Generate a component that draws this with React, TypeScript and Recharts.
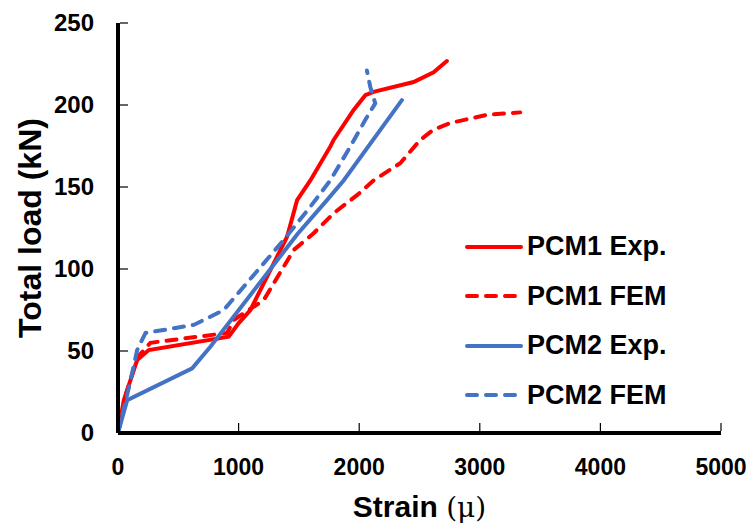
import { Line, LineChart, XAxis, YAxis } from 'recharts'

// Valeurs : déformation (µ) / charge totale (kN)
const pcm1ExpStrain = [0, 48, 159, 255, 918, 1001, 1098, 1402, 1485, 1595, 1760, 1788, 1954, 2051, 2119, 2451, 2617, 2727]
const pcm1ExpLoad = [0, 20, 44.5, 50.6, 58.7, 67, 75, 119.7, 142, 154, 174.6, 178.7, 197, 206, 208, 214, 220, 226.8]

const pcm1FemStrain = [0, 60, 159, 269, 905, 960, 1208, 1457, 1622, 1788, 1982, 2119, 2340, 2506, 2617, 2755, 3059, 3335]
const pcm1FemLoad = [0, 22, 46, 55, 61, 69, 81, 111.6, 121.8, 134, 145, 154, 164.5, 178.7, 185, 189, 194, 195.5]

const pcm2ExpStrain = [0, 76, 615, 766, 1485, 1733, 1871, 2354]
const pcm2ExpLoad = [0, 20, 39.4, 52.6, 121, 142, 154, 203]

const pcm2FemStrain = [0, 104, 159, 228, 628, 877, 1374, 1595, 1760, 1926, 2051, 2133, 2092, 2064]
const pcm2FemLoad = [0, 32, 50.6, 61, 65.9, 75, 117.7, 138, 154, 174.6, 191, 201, 211, 221]

const xTicks = [0, 1000, 2000, 3000, 4000, 5000]
const yTicks = [0, 50, 100, 150, 200, 250]

const toPoints = (xs: number[], ys: number[]) => xs.map((x, i) => ({ x, y: ys[i] }))

const RED = '#FF0000'
const BLUE = '#4472C4'
const FONT = '"Liberation Sans", Arial, sans-serif'

const series = [
  { name: 'PCM1 Exp.', color: RED, dashed: false, data: toPoints(pcm1ExpStrain, pcm1ExpLoad) },
  { name: 'PCM1 FEM', color: RED, dashed: true, data: toPoints(pcm1FemStrain, pcm1FemLoad) },
  { name: 'PCM2 Exp.', color: BLUE, dashed: false, data: toPoints(pcm2ExpStrain, pcm2ExpLoad) },
  { name: 'PCM2 FEM', color: BLUE, dashed: true, data: toPoints(pcm2FemStrain, pcm2FemLoad) },
]

// légende posée par-dessus le graphique (la Legend de recharts réserve de la place)
const LegendBox = () => (
  <div
    style={{
      position: 'absolute',
      left: 465,
      top: 222,
      fontFamily: FONT,
      fontWeight: 'bold',
      fontSize: 27,
      color: '#000',
    }}
  >
    {series.map((s) => (
      <div key={s.name} style={{ display: 'flex', alignItems: 'center', height: 49.5 }}>
        <svg width={62} height={10}>
          <line
            x1={2}
            y1={5}
            x2={56}
            y2={5}
            stroke={s.color}
            strokeWidth={4}
            strokeLinecap="round"
            strokeDasharray={s.dashed ? '10 9' : undefined}
          />
        </svg>
        <span>{s.name}</span>
      </div>
    ))}
  </div>
)

// graduations tournées vers l'intérieur + libellé
const XTick = (props: any) => {
  const { x, y, payload } = props
  return (
    <g>
      <line x1={x} y1={y - 2} x2={x} y2={y - 10} stroke="#000" strokeWidth={1.2} />
      <text x={x} y={y + 42} textAnchor="middle" fontFamily={FONT} fontSize={23} fontWeight="bold" fill="#000">
        {payload.value}
      </text>
    </g>
  )
}

const YTick = (props: any) => {
  const { x, y, payload } = props
  return (
    <g>
      <line x1={x + 2} y1={y} x2={x + 10} y2={y} stroke="#000" strokeWidth={1.2} />
      <text x={x - 24} y={y + 8} textAnchor="end" fontFamily={FONT} fontSize={24} fontWeight="bold" fill="#000">
        {payload.value}
      </text>
    </g>
  )
}

const StrainLabel = (props: any) => {
  const { x, y, width, height } = props.viewBox
  return (
    <text x={x + width / 2} y={y + height - 10} textAnchor="middle" fontFamily={FONT} fontSize={30} fill="#000">
      <tspan fontWeight="bold">Strain </tspan>
      <tspan fontFamily='"DejaVu Serif", serif' fontSize={28}>(μ)</tspan>
    </text>
  )
}

const App = () => {
  return (
    <div style={{ position: 'absolute', left: 0, top: 0, width: 752, height: 527 }}>
      <LineChart width={752} height={527} margin={{ top: 23, right: 31, bottom: 0, left: 0 }}>
        <XAxis
          type="number"
          dataKey="x"
          domain={[0, 5000]}
          ticks={xTicks}
          allowDataOverflow
          height={94}
          axisLine={{ stroke: '#000', strokeWidth: 4 }}
          tickLine={false}
          tickSize={0}
          tickMargin={0}
          tick={<XTick />}
          label={<StrainLabel />}
        />
        <XAxis
          xAxisId="top"
          orientation="top"
          type="number"
          domain={[0, 5000]}
          height={0}
          tick={false}
          tickLine={false}
          axisLine={{ stroke: '#000', strokeWidth: 4 }}
        />
        <YAxis
          type="number"
          domain={[0, 250]}
          ticks={yTicks}
          width={118}
          axisLine={{ stroke: '#000', strokeWidth: 4 }}
          tickLine={false}
          tickSize={0}
          tickMargin={0}
          tick={<YTick />}
          label={{
            value: 'Total load (kN)',
            angle: -90,
            position: 'center',
            dx: -29,
            style: { fill: '#000', fontSize: 32, fontWeight: 'bold', fontFamily: FONT, textAnchor: 'middle' },
          }}
        />
        <YAxis
          yAxisId="right"
          orientation="right"
          type="number"
          domain={[0, 250]}
          width={0}
          tick={false}
          tickLine={false}
          axisLine={{ stroke: '#000', strokeWidth: 4 }}
        />
        {series.map((s) => (
          <Line
            key={s.name}
            data={s.data}
            dataKey="y"
            name={s.name}
            type="linear"
            stroke={s.color}
            strokeWidth={4}
            strokeLinecap="round"
            strokeDasharray={s.dashed ? '10 9' : undefined}
            dot={false}
            activeDot={false}
            isAnimationActive={false}
          />
        ))}
      </LineChart>
      <LegendBox />
    </div>
  )
}

export default App
